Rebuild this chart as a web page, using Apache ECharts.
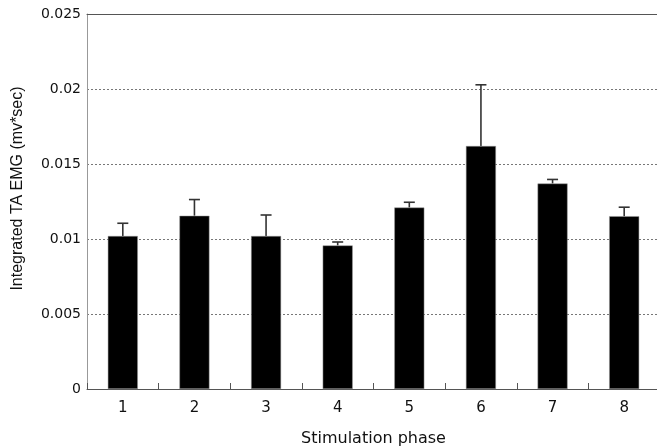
<!DOCTYPE html>
<html>
<head>
<meta charset="utf-8">
<script src="https://cdn.jsdelivr.net/npm/echarts@6/dist/echarts.min.js"></script>
<style>html,body{margin:0;padding:0;background:#fff;}#c{width:657px;height:446px;}</style>
</head>
<body>
<div id="c"></div>
<script>
const categories = ['1','2','3','4','5','6','7','8'];
const means = [0.0102, 0.01155, 0.0102, 0.00957, 0.0121, 0.0162, 0.0137, 0.01152];
const errors = [0.00085, 0.00108, 0.0014, 0.00023, 0.00035, 0.00408, 0.00027, 0.0006];
const yTicks = [0, 0.005, 0.01, 0.015, 0.02, 0.025];

const chart = echarts.init(document.getElementById('c'));
const errData = means.map((m, i) => [i, m, m + errors[i]]);
chart.setOption({
  animation: false,
  grid: { left: 87, top: 14, width: 573, height: 375, containLabel: false, outerBoundsMode: 'none' },
  xAxis: [{
    type: 'category', data: categories, position: 'bottom',
    axisLine: { lineStyle: { color: '#555', width: 1 } },
    axisTick: { show: true, inside: true, length: 6, lineStyle: { color: '#555' } },
    axisLabel: { color: '#111', fontSize: 15, fontFamily: 'DejaVu Sans', margin: 12 },
    name: 'Stimulation phase', nameLocation: 'middle', nameGap: 42,
    nameTextStyle: { color: '#111', fontSize: 16, fontFamily: 'DejaVu Sans' }
  }, {
    type: 'category', data: categories, position: 'top',
    axisLine: { show: true, lineStyle: { color: '#555', width: 1 } },
    axisTick: { show: false }, axisLabel: { show: false }
  }],
  yAxis: {
    type: 'value', min: 0, max: 0.025, interval: 0.005,
    axisLine: { show: true, lineStyle: { color: '#999' } },
    axisTick: { show: false },
    axisLabel: {
      color: '#111', fontSize: 14, fontFamily: 'DejaVu Sans', margin: 6,
      formatter: v => { const t = yTicks.find(x => Math.abs(x - v) < 1e-9); return t === 0 ? '0' : String(+(t ?? v).toFixed(3)); }
    },
    splitLine: { show: true, lineStyle: { color: '#777', type: [2, 2], width: 1 } },
    name: 'Integrated TA EMG (mv*sec)', nameLocation: 'middle', nameGap: 61,
    nameTextStyle: { color: '#111', fontSize: 16, fontFamily: 'Liberation Sans', padding: [0, 0, 0, 26] }
  },
  series: [{
    type: 'bar', data: means, barWidth: 30,
    itemStyle: { color: '#000', borderColor: '#999', borderWidth: 0.5 }
  }, {
    type: 'custom', data: errData, z: 1,
    renderItem: (params, api) => {
      const x = api.value(0);
      const lo = api.coord([x, api.value(1)]);
      const hi = api.coord([x, api.value(2)]);
      const w = 5.5;
      const st = { stroke: '#333', lineWidth: 1.6 };
      return { type: 'group', children: [
        { type: 'line', shape: { x1: lo[0], y1: lo[1], x2: hi[0], y2: hi[1] }, style: st },
        { type: 'line', shape: { x1: hi[0] - w, y1: hi[1], x2: hi[0] + w, y2: hi[1] }, style: st }
      ]};
    }
  }]
});
</script>
</body>
</html>
